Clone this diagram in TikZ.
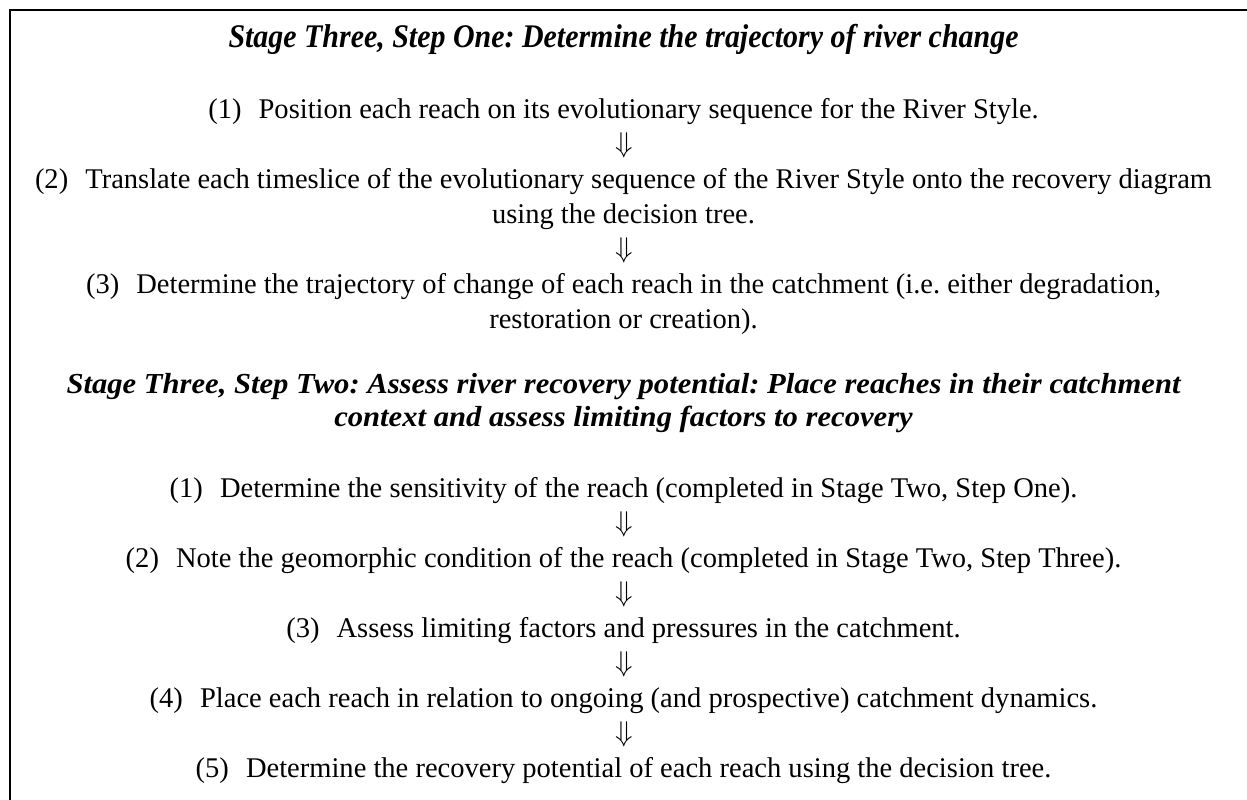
\documentclass[tikz,border=0pt]{standalone}
\usepackage{fontspec}
\setmainfont{Liberation Serif}
\usepackage{graphicx}
\newsavebox\measbody
\newsavebox\boxtitleA
\newsavebox\boxtitleB
\newsavebox\boxtitleC
\frenchspacing
\begin{document}
\frenchspacing
\sbox\measbody{\fontsize{10}{12}\selectfont (2)\hspace{0.6em}Translate each timeslice of the evolutionary sequence of the River Style onto the recovery diagram}%
\pgfmathsetmacro\bodysize{11770/\the\wd\measbody}%
\sbox\boxtitleA{\fontsize{33}{33}\selectfont\bfseries\itshape Stage Three, Step One: Determine the trajectory of river change}%
\pgfmathsetmacro\titleAsc{790/\the\wd\boxtitleA}%
\sbox\boxtitleB{\fontsize{29}{29}\selectfont\bfseries\itshape Stage Three, Step Two: Assess river recovery potential: Place reaches in their catchment}%
\sbox\boxtitleC{\fontsize{29}{29}\selectfont\bfseries\itshape context and assess limiting factors to recovery}%
\pgfmathsetmacro\titleBsc{1114/\the\wd\boxtitleB}%
\newcommand\bodyfont{\fontsize{\bodysize}{\bodysize}\selectfont}%
\newcommand\num[1]{(#1)\hspace{0.6em}}%
\newcommand\downglyph{\scalebox{1.15}{$\Downarrow$}}%
\begin{tikzpicture}[x=1pt,y=-1pt,
  bodytext/.style={inner sep=0pt, anchor=base, font=\bodyfont},
  titletext/.style={inner sep=0pt, anchor=base},
  arrowglyph/.style={inner sep=0pt, anchor=center, font=\bodyfont},
  frameline/.style={line width=2pt, line cap=rect}]
\useasboundingbox (0,0) rectangle (1247,800);
\fill[white] (0,0) rectangle (1247,800);
\coordinate (fbl) at (10,800);
\coordinate (ftl) at (10,10);
\coordinate (ftr) at (1247,10);
\draw[frameline] (fbl) -- (ftl) -- (ftr);
% Step One
\node[titletext] (t1) at (623.5,48) {\scalebox{\titleAsc}[1]{\usebox\boxtitleA}};
\node[bodytext] (a1) at (623.5,118) {\num{1}Position each reach on its evolutionary sequence for the River Style.};
\node[arrowglyph] (ar1) at (624.5,145) {\downglyph};
\node[bodytext] (a2) at (623.5,188) {\num{2}Translate each timeslice of the evolutionary sequence of the River Style onto the recovery diagram};
\node[bodytext] (a2b) at (623.5,223) {using the decision tree.};
\node[arrowglyph] (ar2) at (624.5,250) {\downglyph};
\node[bodytext] (a3) at (623.5,293) {\num{3}Determine the trajectory of change of each reach in the catchment (i.e. either degradation,};
\node[bodytext] (a3b) at (623.5,328) {restoration or creation).};
% Step Two
\node[titletext] (t2) at (623.5,393) {\scalebox{\titleBsc}[1]{\usebox\boxtitleB}};
\node[titletext] (t2b) at (623.5,426) {\scalebox{\titleBsc}[1]{\usebox\boxtitleC}};
\node[bodytext] (b1) at (623.5,497) {\num{1}Determine the sensitivity of the reach (completed in Stage Two, Step One).};
\node[arrowglyph] (br1) at (624.5,524) {\downglyph};
\node[bodytext] (b2) at (623.5,567) {\num{2}Note the geomorphic condition of the reach (completed in Stage Two, Step Three).};
\node[arrowglyph] (br2) at (624.5,594) {\downglyph};
\node[bodytext] (b3) at (623.5,637) {\num{3}Assess limiting factors and pressures in the catchment.};
\node[arrowglyph] (br3) at (624.5,664) {\downglyph};
\node[bodytext] (b4) at (623.5,707) {\num{4}Place each reach in relation to ongoing (and prospective) catchment dynamics.};
\node[arrowglyph] (br4) at (624.5,734) {\downglyph};
\node[bodytext] (b5) at (623.5,777) {\num{5}Determine the recovery potential of each reach using the decision tree.};
\end{tikzpicture}
\end{document}
